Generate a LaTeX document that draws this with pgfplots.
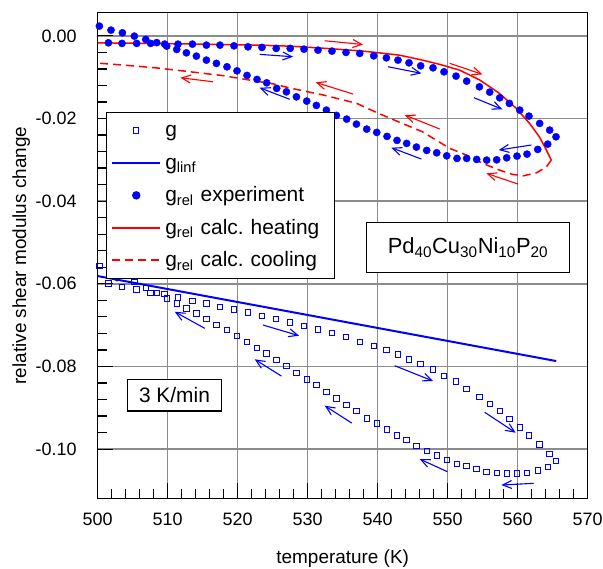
\documentclass[border=0pt]{standalone}
\usepackage{fontspec}
\setmainfont{Liberation Sans}
\usepackage{pgfplots}
\pgfplotsset{compat=1.18}
\usetikzlibrary{arrows.meta}
\definecolor{gridgray}{RGB}{140,140,140}
\tikzset{arr/.style={-{Straight Barb[length=9bp,width=8bp]}, line width=1.1bp}}
\begin{document}
\begin{tikzpicture}
\begin{axis}[
  scale only axis, width=490bp, height=485.6bp,
  xmin=500, xmax=570, ymin=-0.1119, ymax=0.0056,
  xtick={500,510,...,570},
  ytick={-0.10,-0.08,-0.06,-0.04,-0.02,0},
  minor x tick num=4, minor y tick num=4,
  tick pos=left, tick align=inside,
  major tick length=15bp, minor tick length=9bp,
  tick style={black, line width=1.2bp},
  scaled y ticks=false,
  /pgf/number format/assume math mode=true,
  yticklabel style={/pgf/number format/fixed, /pgf/number format/fixed zerofill, /pgf/number format/precision=2, xshift=-17.7bp},
  xticklabel style={/pgf/number format/fixed, /pgf/number format/precision=0, /pgf/number format/1000 sep={}, yshift=-11bp},
  ticklabel style={font=\fontsize{18}{20}\selectfont},
  grid=major,
  major grid style={gridgray, line width=1.5bp},
  axis line style={black, line width=1.5bp},
  xlabel={temperature (K)},
  ylabel={relative shear modulus change},
  label style={font=\fontsize{19}{22}\selectfont},
  xlabel style={at={(axis description cs:0.5,-0.1236)}, anchor=center},
  ylabel style={at={(axis description cs:-0.156,0.5)}, anchor=center},
  legend image code/.code={\draw[mark repeat=2,mark phase=2,#1] plot coordinates {(0bp,0bp) (24bp,0bp) (48bp,0bp)};},
  legend cell align=left,
  legend style={at={(0.0163,0.796)}, anchor=north west, draw=black, line width=1.2bp,
    fill=white, inner xsep=5bp, inner ysep=2bp, font=\fontsize{21}{25}\selectfont,
    row sep=0bp,
    nodes={inner ysep=0bp, inner xsep=4bp, text height=22.6bp, text depth=9.8bp, text width=160bp, align=left}},
]
\coordinate (SW) at (rel axis cs:0,0);
% g (squares): heating then cooling
\addplot[only marks, mark=square, mark size=2.7bp, blue, line width=1bp] coordinates {
(501.53,-0.05990) (503.47,-0.06072) (505.57,-0.06135) (507.57,-0.06217) (509.57,-0.06249)
(511.47,-0.06328) (513.53,-0.06411) (515.53,-0.06473) (517.47,-0.06556) (519.47,-0.06619)
(521.47,-0.06691) (523.47,-0.06774) (525.5,-0.06853) (527.5,-0.06933) (529.47,-0.07016)
(531.47,-0.07102) (533.47,-0.07185) (535.47,-0.07285) (537.43,-0.07402) (539.43,-0.07499)
(541.24,-0.07602) (542.9,-0.07706) (544.47,-0.07827) (546.14,-0.07942) (547.9,-0.08070)
(549.47,-0.08224) (551.19,-0.08360) (552.71,-0.08547) (554.53,-0.08732) (556.0,-0.08902)
(557.43,-0.09079) (558.81,-0.09273) (560.29,-0.09473) (561.61,-0.09667) (563.14,-0.09884)
(564.57,-0.10112) (565.47,-0.10289)
(564.29,-0.10426) (562.86,-0.10513) (561.33,-0.10571) (559.90,-0.10586) (558.43,-0.10586)
(557.0,-0.10578) (555.57,-0.10547) (554.14,-0.10474) (552.71,-0.10402) (551.33,-0.10360)
(549.86,-0.10256) (548.43,-0.10151) (547.0,-0.10039) (545.53,-0.09926) (544.14,-0.09781)
(542.76,-0.09667) (541.33,-0.09522) (539.86,-0.09376) (538.43,-0.09255) (536.96,-0.09072)
(535.57,-0.08934) (534.1,-0.08772) (532.67,-0.08611) (531.24,-0.08450) (529.86,-0.08312)
(528.39,-0.08152) (526.96,-0.07990) (525.57,-0.07845) (524.14,-0.07683) (522.76,-0.07547)
(521.33,-0.07402) (519.9,-0.07265) (518.47,-0.07120) (516.96,-0.06999) (515.53,-0.06853)
(514.1,-0.06715) (512.67,-0.06594) (511.29,-0.06473) (509.86,-0.06352) (508.43,-0.06217)
(506.86,-0.06096) (505.24,-0.05951) (503.53,-0.05813) (501.9,-0.05692) (500.24,-0.05571)
};
\addlegendentry{g}
% g_linf
\addplot[blue, line width=2bp] coordinates {(500,-0.05813) (565.5,-0.07869)};
\addlegendentry{g\textsubscript{linf}}
% g_rel experiment (dots)
\addplot[only marks, mark=*, mark size=3.6bp, blue] coordinates {
(501.53,-0.00169) (503.47,-0.00183) (505.57,-0.00183) (507.57,-0.00183) (509.57,-0.00200)
(511.47,-0.00201) (513.53,-0.00201) (515.53,-0.00225) (517.47,-0.00225) (519.47,-0.00242)
(521.47,-0.00266) (523.47,-0.00280) (525.5,-0.00304) (527.5,-0.00304) (529.47,-0.00322)
(531.47,-0.00346) (533.47,-0.00370) (535.47,-0.00401) (537.43,-0.00425) (539.43,-0.00484)
(541.24,-0.00532) (542.9,-0.00588) (544.47,-0.00653) (546.14,-0.00726) (547.9,-0.00774)
(549.47,-0.00871) (551.19,-0.00975) (552.71,-0.01096) (554.53,-0.01234) (556.0,-0.01362)
(557.43,-0.01500) (558.81,-0.01635) (560.29,-0.01797) (561.61,-0.01942) (563.14,-0.02119)
(564.57,-0.02281) (565.47,-0.02443)
(564.29,-0.02620) (562.86,-0.02748) (561.33,-0.02862) (559.90,-0.02910) (558.43,-0.02951)
(557.0,-0.03000) (555.57,-0.03007) (554.14,-0.02990) (552.71,-0.02966) (551.33,-0.02966)
(549.86,-0.02903) (548.43,-0.02830) (547.0,-0.02772) (545.53,-0.02692) (544.14,-0.02603)
(542.76,-0.02530) (541.33,-0.02433) (539.86,-0.02337) (538.43,-0.02257) (536.96,-0.02136)
(535.57,-0.02015) (534.1,-0.01925) (532.67,-0.01797) (531.24,-0.01683) (529.86,-0.01579)
(528.39,-0.01476) (526.96,-0.01355) (525.57,-0.01272) (524.14,-0.01137) (522.76,-0.01054)
(521.33,-0.00958) (519.9,-0.00847) (518.47,-0.00750) (516.96,-0.00667) (515.53,-0.00588)
(514.1,-0.00491) (512.67,-0.00411) (511.29,-0.00329) (509.86,-0.00249) (508.43,-0.00164)
(506.86,-0.00087) (505.24,-0.00007) (503.53,0.00073) (501.9,0.00138) (500.24,0.00235)
};
\addlegendentry{g\textsubscript{rel} experiment}
% g_rel calc heating
\addplot[red, line width=1.5bp] coordinates {
(500.0,-0.00169) (507.4,-0.00183) (514.6,-0.00201) (521.7,-0.00220) (527.4,-0.00249)
(533.1,-0.00309) (537.4,-0.00363) (539.3,-0.00394) (543.1,-0.00467) (546.4,-0.00588)
(548.9,-0.00692) (551.7,-0.00830) (554.6,-0.01071) (557.4,-0.01393) (559.8,-0.01756)
(561.7,-0.02120) (563.1,-0.02443) (564.1,-0.02765) (564.8,-0.03007)
};
\addlegendentry{g\textsubscript{rel} calc.\ heating}
% g_rel calc cooling
\addplot[red, line width=1.5bp, dash pattern=on 8bp off 5bp] coordinates {
(564.8,-0.03007) (564.1,-0.03169) (562.7,-0.03314) (560.8,-0.03387) (559.3,-0.03353)
(557.4,-0.03249) (555.0,-0.03086) (552.7,-0.02886) (550.3,-0.02724) (548.9,-0.02580)
(546.4,-0.02322) (544.1,-0.02160) (541.7,-0.01991) (539.3,-0.01814) (537.0,-0.01633)
(534.6,-0.01532) (532.2,-0.01431) (527.4,-0.01260) (525.0,-0.01159) (522.7,-0.01099)
(517.9,-0.00963) (513.1,-0.00867) (508.4,-0.00776) (503.6,-0.00706) (500.0,-0.00660)
};
\addlegendentry{g\textsubscript{rel} calc.\ cooling}
% arrows
\draw[arr, blue] (axis cs:523.14,-0.00448) -- (axis cs:527.9,-0.00506);
\draw[arr, blue] (axis cs:527.43,-0.01536) -- (axis cs:523.14,-0.01256);
\draw[arr, blue] (axis cs:541.47,-0.00748) -- (axis cs:546.24,-0.00907);
\draw[arr, blue] (axis cs:553.76,-0.01498) -- (axis cs:557.81,-0.01778);
\draw[arr, blue] (axis cs:561.96,-0.02642) -- (axis cs:557.29,-0.02763);
\draw[arr, blue] (axis cs:546.24,-0.02981) -- (axis cs:541.96,-0.02707);
\draw[arr, red] (axis cs:516.47,-0.01111) -- (axis cs:511.81,-0.01014);
\draw[arr, red] (axis cs:532.43,-0.00119) -- (axis cs:537.9,-0.00210);
\draw[arr, red] (axis cs:536.47,-0.01408) -- (axis cs:531.14,-0.01125);
\draw[arr, red] (axis cs:550.29,-0.00665) -- (axis cs:554.96,-0.00932);
\draw[arr, red] (axis cs:548.86,-0.02255) -- (axis cs:543.86,-0.01916);
\draw[arr, red] (axis cs:560.04,-0.03586) -- (axis cs:555.53,-0.03327);
\draw[arr, blue] (axis cs:515.29,-0.07077) -- (axis cs:511.0,-0.06676);
\draw[arr, blue] (axis cs:523.61,-0.06997) -- (axis cs:528.76,-0.07256);
\draw[arr, blue] (axis cs:526.24,-0.08232) -- (axis cs:522.43,-0.07827);
\draw[arr, blue] (axis cs:536.29,-0.09369) -- (axis cs:532.43,-0.08950);
\draw[arr, blue] (axis cs:542.43,-0.07982) -- (axis cs:547.9,-0.08352);
\draw[arr, blue] (axis cs:555.29,-0.09110) -- (axis cs:559.71,-0.09603);
\draw[arr, blue] (axis cs:549.96,-0.10547) -- (axis cs:546.0,-0.10240);
\draw[arr, blue] (axis cs:562.29,-0.10828) -- (axis cs:557.67,-0.10869);
\draw[arr, blue] (axis cs:503.86,-0.05860) -- (axis cs:501.43,-0.05811);
% text boxes
\node[draw=black, line width=1.2bp, fill=white, inner sep=0pt, minimum width=202.7bp, minimum height=50bp,
  font=\fontsize{22}{26}\selectfont] at (axis cs:552.9,-0.05127)
  {Pd\textsubscript{40}Cu\textsubscript{30}Ni\textsubscript{10}P\textsubscript{20}};
\node[draw=black, line width=1.2bp, fill=white, inner sep=0pt, minimum width=94.3bp, minimum height=31.7bp,
  font=\fontsize{21}{25}\selectfont] at (axis cs:510.97,-0.08696) {3 K/min};
\end{axis}
\pgfresetboundingbox
\path (SW) ++(-97.7bp,-70.7bp) rectangle ++(603bp,569bp);
\end{tikzpicture}
\end{document}
